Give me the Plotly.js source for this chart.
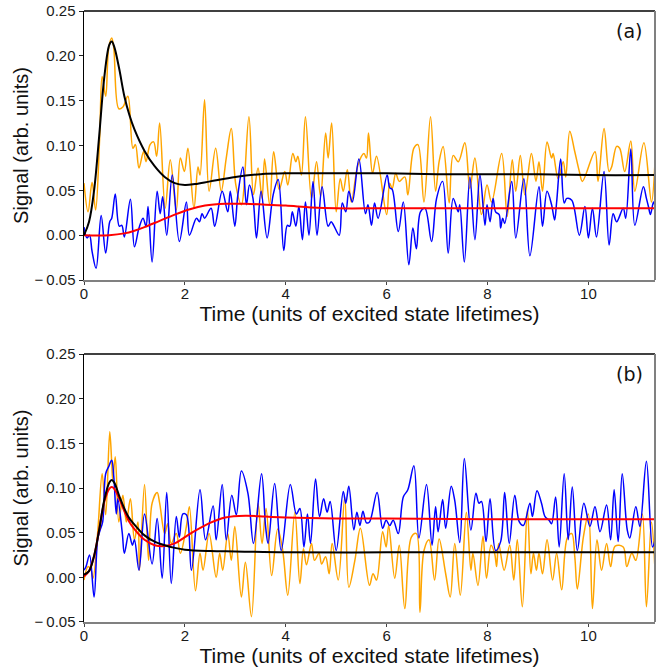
<!DOCTYPE html>
<html>
<head>
<meta charset="utf-8">
<script src="https://cdn.plot.ly/plotly-3.0.1.min.js"></script>
<style>html,body{margin:0;padding:0;background:#fff;}#chart{width:663px;height:667px;}</style>
</head>
<body>
<div id="chart"></div>
<script>
// ---------- Panel (a) ----------
const tA_orange = [0.00,0.08,0.16,0.23,0.31,0.36,0.43,0.49,0.55,0.59,0.69,0.77,0.87,0.97,1.02,1.09,1.18,1.23,1.31,1.38,1.44,1.50,1.61,1.71,1.83,1.91,1.99,2.06,2.18,2.26,2.30,2.39,2.48,2.61,2.72,2.82,2.92,3.01,3.12,3.27,3.36,3.45,3.53,3.58,3.68,3.76,3.87,3.98,4.04,4.14,4.20,4.24,4.31,4.39,4.51,4.61,4.69,4.79,4.84,4.91,5.00,5.08,5.14,5.22,5.30,5.43,5.55,5.60,5.64,5.72,5.80,6.00,6.06,6.11,6.18,6.25,6.36,6.42,6.54,6.62,6.74,6.87,6.97,7.04,7.12,7.24,7.32,7.42,7.55,7.65,7.75,7.88,7.99,8.08,8.28,8.39,8.49,8.56,8.65,8.74,8.87,8.96,9.02,9.09,9.18,9.27,9.30,9.40,9.50,9.55,9.63,9.73,9.82,9.88,10.13,10.19,10.31,10.41,10.46,10.56,10.62,10.72,10.84,10.92,11.10,11.25,11.32];
const vA_orange = [0.058,0.026,0.059,0.028,0.108,0.177,0.155,0.209,0.220,0.209,0.141,0.143,0.155,0.097,0.101,0.075,0.093,0.082,0.101,0.104,0.088,0.125,0.030,0.084,0.028,0.086,0.071,0.097,0.030,0.076,0.067,0.151,0.049,0.097,0.049,0.086,0.119,0.056,0.034,0.132,0.045,0.075,0.041,0.085,0.034,0.093,0.051,0.071,0.056,0.091,0.082,0.088,0.067,0.132,0.041,0.082,0.043,0.114,0.086,0.125,0.026,0.063,0.049,0.073,0.037,0.078,0.091,0.086,0.114,0.069,0.088,0.023,0.058,0.052,0.069,0.060,0.065,0.045,0.097,0.101,0.037,0.132,0.049,0.082,0.099,0.036,0.089,0.082,0.103,0.052,0.086,0.023,0.056,0.037,0.091,0.021,0.084,0.049,0.089,0.045,0.091,0.060,0.082,0.049,0.104,0.086,0.091,0.063,0.082,0.065,0.116,0.093,0.071,0.060,0.093,0.060,0.119,0.071,0.076,0.099,0.097,0.071,0.105,0.049,0.103,0.037,0.082];

const tA_blue = [0.00,0.06,0.11,0.16,0.24,0.34,0.43,0.51,0.55,0.62,0.70,0.75,0.80,0.92,1.00,1.09,1.17,1.23,1.27,1.35,1.45,1.51,1.56,1.64,1.75,1.89,2.03,2.09,2.23,2.29,2.34,2.39,2.52,2.59,2.74,2.85,2.90,2.99,3.05,3.15,3.22,3.28,3.35,3.42,3.51,3.63,3.75,3.85,3.96,4.03,4.08,4.13,4.20,4.26,4.33,4.39,4.46,4.54,4.62,4.72,4.84,4.90,4.95,5.06,5.12,5.19,5.25,5.32,5.45,5.58,5.63,5.70,5.76,5.83,6.01,6.06,6.11,6.23,6.33,6.44,6.52,6.59,6.67,6.76,6.89,6.99,7.11,7.22,7.32,7.42,7.45,7.54,7.65,7.75,7.85,7.95,7.99,8.05,8.11,8.16,8.23,8.26,8.30,8.34,8.48,8.56,8.72,8.84,9.02,9.09,9.18,9.27,9.33,9.37,9.45,9.52,9.57,9.67,9.82,9.93,10.00,10.08,10.16,10.31,10.41,10.49,10.56,10.69,10.74,10.84,10.92,11.09,11.15,11.19,11.23,11.29,11.32];
const vA_blue = [0.009,-0.003,0.000,-0.018,-0.037,0.022,-0.020,0.015,0.019,0.046,0.010,0.011,-0.002,0.040,-0.013,0.008,0.019,0.010,0.032,-0.030,0.049,0.024,0.043,0.000,0.067,-0.007,0.037,0.000,0.019,0.015,0.024,0.019,0.030,0.010,0.049,0.026,0.049,0.010,0.045,0.076,0.034,0.056,0.041,-0.003,0.049,-0.003,0.045,0.062,-0.017,0.011,0.010,0.026,0.010,0.032,-0.005,0.037,0.000,0.060,0.000,0.054,0.010,0.015,0.011,0.000,0.036,0.026,0.049,0.037,0.085,0.024,0.034,0.011,0.036,0.019,0.067,0.053,0.051,0.004,0.037,-0.033,0.008,-0.015,0.026,0.030,-0.007,0.041,0.060,-0.020,0.041,0.026,0.034,-0.030,0.065,-0.005,0.067,0.011,0.034,0.015,0.041,0.026,0.023,0.008,0.019,0.013,0.060,-0.003,0.063,-0.023,0.054,0.010,0.049,0.034,0.017,0.037,0.085,0.036,0.041,0.039,0.000,0.032,-0.003,0.030,-0.002,0.071,-0.011,0.024,0.015,0.030,0.019,0.096,0.011,0.054,0.041,0.032,0.023,0.037,0.032];

const tA_black = [0,0.1,0.2,0.3,0.4,0.5,0.55,0.6,0.7,0.8,0.9,1.0,1.2,1.4,1.6,1.8,2.0,2.2,2.5,3.0,3.5,4.0,5,6,7,8,9,10,11.32];
const vA_black = [0.000,0.015,0.050,0.110,0.175,0.212,0.216,0.210,0.185,0.155,0.134,0.118,0.094,0.077,0.065,0.058,0.056,0.057,0.060,0.065,0.068,0.069,0.069,0.069,0.068,0.068,0.068,0.067,0.067];

const tA_red = [0,0.5,0.8,1.0,1.2,1.5,1.8,2.1,2.4,2.8,3.2,3.6,4.0,4.5,5,6,8,10,11.32];
const vA_red = [0,0.000,0.002,0.005,0.009,0.016,0.023,0.029,0.033,0.035,0.035,0.034,0.033,0.031,0.030,0.030,0.030,0.030,0.030];

// ---------- Panel (b) ----------
const tB_orange = [0.00,0.08,0.14,0.18,0.27,0.36,0.43,0.51,0.55,0.57,0.62,0.69,0.77,0.84,0.92,1.00,1.07,1.10,1.20,1.28,1.35,1.45,1.50,1.60,1.66,1.73,1.83,1.91,2.03,2.09,2.21,2.30,2.36,2.48,2.62,2.69,2.75,2.85,2.92,2.99,3.12,3.20,3.32,3.45,3.53,3.61,3.72,3.84,3.94,4.04,4.18,4.28,4.35,4.41,4.51,4.57,4.66,4.71,4.79,4.86,4.92,5.04,5.17,5.25,5.37,5.48,5.66,5.73,5.80,5.92,5.99,6.04,6.16,6.25,6.36,6.49,6.59,6.66,6.74,6.84,6.95,7.04,7.17,7.26,7.35,7.46,7.58,7.67,7.71,7.81,7.91,7.98,8.07,8.14,8.18,8.22,8.33,8.44,8.52,8.59,8.69,8.79,8.86,8.91,8.97,9.02,9.09,9.18,9.29,9.37,9.47,9.58,9.67,9.73,9.78,9.90,10.00,10.08,10.17,10.26,10.36,10.44,10.53,10.69,10.76,10.86,10.94,11.07,11.15,11.25,11.32];
const vB_orange = [-0.003,0.012,0.008,-0.001,0.049,0.116,0.070,0.163,0.128,0.109,0.135,0.062,0.092,0.062,0.088,0.042,0.062,0.008,0.104,0.019,0.083,0.095,0.083,0.049,0.060,0.038,0.049,0.027,0.057,0.079,-0.015,0.027,0.008,0.049,0.000,0.027,0.008,0.049,0.019,0.057,-0.022,0.017,-0.044,0.083,0.038,0.077,0.002,0.054,0.030,-0.020,0.073,-0.007,0.032,0.014,0.038,0.019,0.027,0.015,0.023,0.004,0.038,-0.003,0.090,-0.011,0.019,0.055,-0.009,0.004,-0.003,0.051,0.034,0.058,-0.001,0.036,-0.035,0.045,0.049,-0.039,0.030,0.042,-0.003,0.043,0.004,-0.022,0.038,-0.020,0.073,0.008,0.027,-0.009,0.046,-0.001,0.036,0.027,0.012,0.038,0.008,0.036,-0.003,0.042,-0.033,0.076,0.004,0.027,0.008,0.027,0.004,0.042,-0.003,0.027,-0.014,0.044,0.049,0.023,-0.013,0.045,0.071,-0.035,0.042,0.008,0.038,0.012,0.035,0.034,0.012,0.027,0.019,0.071,-0.033,0.062,0.008];

const tB_blue = [0.00,0.04,0.11,0.20,0.27,0.32,0.37,0.43,0.49,0.55,0.59,0.64,0.67,0.76,0.80,0.89,0.96,1.00,1.09,1.20,1.35,1.45,1.55,1.64,1.73,1.83,1.89,1.96,2.03,2.13,2.30,2.41,2.56,2.62,2.74,2.82,2.93,3.02,3.12,3.25,3.36,3.52,3.60,3.65,3.78,3.91,4.09,4.21,4.28,4.36,4.43,4.49,4.59,4.67,4.75,4.82,4.88,5.00,5.14,5.19,5.25,5.35,5.41,5.47,5.53,5.60,5.66,5.81,5.92,5.99,6.06,6.13,6.23,6.33,6.42,6.54,6.64,6.79,6.90,6.97,7.02,7.11,7.17,7.28,7.35,7.45,7.54,7.67,7.77,7.83,7.88,7.97,8.05,8.16,8.26,8.34,8.43,8.54,8.63,8.71,8.84,8.89,8.98,9.07,9.14,9.22,9.27,9.35,9.42,9.52,9.60,9.68,9.78,9.91,10.03,10.13,10.23,10.36,10.44,10.51,10.59,10.67,10.77,10.82,10.94,11.02,11.15,11.27,11.32];
const vB_blue = [0.008,0.012,0.025,-0.022,0.042,0.053,0.062,0.116,0.124,0.131,0.113,0.071,0.088,0.049,0.027,0.049,0.036,0.042,0.008,0.071,0.015,0.066,-0.001,0.095,-0.007,0.068,0.045,0.071,0.070,0.008,0.098,0.042,0.080,0.042,0.104,0.042,0.092,0.070,0.119,0.094,0.038,0.116,0.057,0.038,0.105,0.030,0.104,0.071,0.077,0.034,0.071,0.038,0.110,0.068,0.088,0.073,0.085,0.030,0.096,0.083,0.102,0.053,0.073,0.058,0.074,0.061,0.062,0.095,0.055,0.064,0.058,0.064,0.049,0.090,0.098,0.125,0.044,0.104,0.036,0.079,0.051,0.087,0.055,0.102,0.086,0.039,0.133,0.053,0.094,0.083,0.085,0.040,0.088,0.030,0.040,0.095,0.038,0.092,0.062,0.058,0.083,0.068,0.097,0.083,0.068,0.064,0.060,0.090,0.034,0.116,0.042,0.101,0.030,0.083,0.057,0.079,0.051,0.081,0.042,0.098,0.040,0.116,0.053,0.044,0.079,0.057,0.130,0.034,0.042];

const tB_black = [0,0.1,0.2,0.3,0.4,0.5,0.55,0.6,0.7,0.8,0.9,1.0,1.2,1.4,1.6,1.8,2.0,2.5,3.0,4.0,6,8,10,11.32];
const vB_black = [0.003,0.007,0.024,0.053,0.086,0.106,0.109,0.106,0.091,0.077,0.066,0.059,0.047,0.040,0.036,0.033,0.031,0.0295,0.029,0.028,0.028,0.028,0.028,0.028];

const tB_red = [0,0.1,0.2,0.3,0.4,0.5,0.55,0.6,0.7,0.8,0.9,1.0,1.2,1.4,1.6,1.8,2.0,2.2,2.5,2.8,3.2,3.6,4.0,5,6,8,10,11.32];
const vB_red = [0.001,0.007,0.024,0.053,0.084,0.099,0.101,0.099,0.088,0.074,0.062,0.054,0.042,0.036,0.035,0.038,0.045,0.052,0.061,0.067,0.069,0.068,0.067,0.066,0.066,0.065,0.065,0.065];

const xTicks = [0,2,4,6,8,10];
const yTickVals = [-0.05,0,0.05,0.10,0.15,0.20,0.25];
const yTickText = ["\u2212\u20090.05","0.00","0.05","0.10","0.15","0.20","0.25"];
const panelLabels = ["(a)","(b)"];
const xTitle = "Time (units of excited state lifetimes)";
const yTitle = "Signal (arb. units)";

const C_ORANGE = "#FFA500", C_BLUE = "#0000FF", C_RED = "#FF0000", C_BLACK = "#000000";

function tr(x, y, color, width, ax) {
  return {x: x, y: y, type: "scatter", mode: "lines",
          line: {color: color, width: width, shape: "spline", smoothing: 1.0},
          xaxis: ax[0], yaxis: ax[1], showlegend: false, hoverinfo: "skip"};
}
const A = ["x","y"], B = ["x2","y2"];
const data = [
  tr(tA_orange, vA_orange, C_ORANGE, 1.5, A),
  tr(tA_blue, vA_blue, C_BLUE, 1.5, A),
  tr(tA_red, vA_red, C_RED, 2, A),
  tr(tA_black, vA_black, C_BLACK, 2, A),
  tr(tB_orange, vB_orange, C_ORANGE, 1.5, B),
  tr(tB_blue, vB_blue, C_BLUE, 1.5, B),
  tr(tB_red, vB_red, C_RED, 2, B),
  tr(tB_black, vB_black, C_BLACK, 2, B)
];

const tickFont = {family: "Liberation Sans, Arial, sans-serif", size: 15, color: "#1a1a1a"};
const xTitleFont = {family: "Liberation Sans, Arial, sans-serif", size: 21, color: "#111"};
const yTitleFont = {family: "Liberation Sans, Arial, sans-serif", size: 20, color: "#111"};
function xax(anchor) {
  return {anchor: anchor, range: [0, 11.32], tickvals: xTicks, ticks: "outside", ticklen: 3, tickwidth: 1,
          tickcolor: "#444", showline: true, linecolor: "#808080", linewidth: 2, showgrid: false, zeroline: false,
          ticklabelstandoff: -4,
          tickfont: tickFont, title: {text: xTitle, font: xTitleFont, standoff: 3}};
}
function yax(anchor, domain) {
  return {anchor: anchor, domain: domain, range: [-0.05, 0.25], tickvals: yTickVals, ticktext: yTickText,
          ticks: "outside", ticklen: 4, tickwidth: 1, tickcolor: "#222", showline: true, linecolor: "#000",
          linewidth: 1.5, showgrid: false, zeroline: false, tickfont: tickFont,
          title: {text: yTitle, font: yTitleFont, standoff: 0}};
}
const shapes = [];
[["x","y"],["x2","y2"]].forEach(function(p){
  shapes.push({type:"line", xref:p[0]+" domain", yref:p[1]+" domain", x0:0, x1:1, y0:1, y1:1, line:{color:"#000", width:1.5}});
  shapes.push({type:"line", xref:p[0]+" domain", yref:p[1]+" domain", x0:1, x1:1, y0:0, y1:1, line:{color:"#808080", width:2}});
});
const layout = {
  width: 663, height: 667,
  margin: {l: 84, r: 8, t: 11, b: 45},
  paper_bgcolor: "#fff", plot_bgcolor: "#fff",
  xaxis: xax("y"), yaxis: yax("x", [0.5597, 1]),
  xaxis2: xax("y2"), yaxis2: yax("x2", [0, 0.4386]),
  shapes: shapes,
  annotations: [
    {text: panelLabels[0], xref: "x domain", yref: "y domain", x: 0.955, y: 0.925, showarrow: false,
     xanchor: "center", yanchor: "middle", font: {family: "DejaVu Sans", size: 19, color: "#111"}},
    {text: panelLabels[1], xref: "x2 domain", yref: "y2 domain", x: 0.955, y: 0.925, showarrow: false,
     xanchor: "center", yanchor: "middle", font: {family: "DejaVu Sans", size: 19, color: "#111"}}
  ]
};
Plotly.newPlot("chart", data, layout, {staticPlot: true});
</script>
</body>
</html>
